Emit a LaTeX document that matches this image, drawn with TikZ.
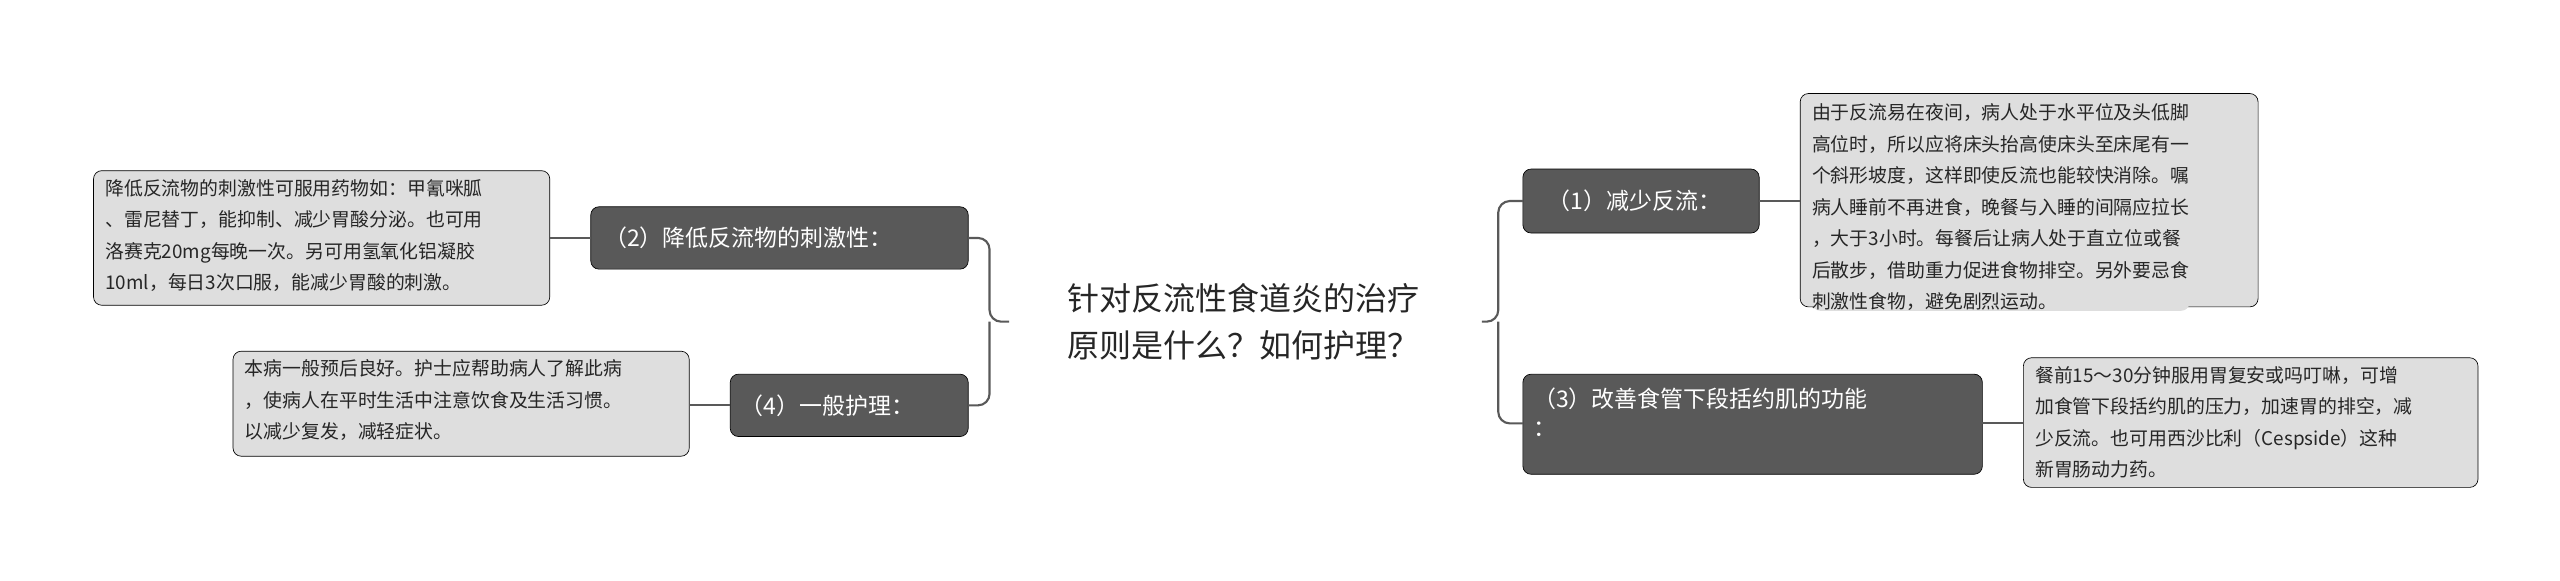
\documentclass[tikz,border=0pt]{standalone}
\usepackage{fontspec}
\setmainfont{Noto Sans CJK SC}
\begin{document}
\begin{tikzpicture}[x=1pt,y=-1pt,
 dark/.style={fill=black!65,text=white,rounded corners=5pt,font=\fontsize{14}{18}\selectfont,align=left,inner sep=0pt},
 lite/.style={fill=black!13,text=black!85,rounded corners=5pt,font=\fontsize{11.5}{19.2}\selectfont,align=left,inner sep=0pt},
 conn/.style={draw=black!65,line width=1.3pt,rounded corners=7pt}]
\useasboundingbox (0,0) rectangle (1560,354);
\node[font=\fontsize{19.5}{29}\selectfont,align=left,text=black!85] (c) at (758,196) {针对反流性食道炎的治疗\\原则是什么？如何护理？};
\coordinate (cr) at (903,196); \coordinate (cl) at (615,196);
% right
\filldraw[dark] (928,103) rectangle (1072,142);
\node[dark,anchor=west] (n1) at (943,122.5) {（1）减少反流：};
\coordinate (n1w) at (928,122.5); \coordinate (n1e) at (1072,122.5);
\filldraw[lite] (1097,57) rectangle (1376,187);
\node[lite,anchor=north west] (t1) at (1104,63) {由于反流易在夜间，病人处于水平位及头低脚\\高位时，所以应将床头抬高使床头至床尾有一\\个斜形坡度，这样即使反流也能较快消除。嘱\\病人睡前不再进食，晚餐与入睡的间隔应拉长\\，大于3小时。每餐后让病人处于直立位或餐\\后散步，借助重力促进食物排空。另外要忌食\\刺激性食物，避免剧烈运动。};
\coordinate (t1w) at (1097,122.5);
\filldraw[dark] (928,228) rectangle (1208,289);
\node[dark,anchor=north west] (n3) at (934,236) {（3）改善食管下段括约肌的功能\\：};
\coordinate (n3w) at (928,258); \coordinate (n3e) at (1208,258);
\filldraw[lite] (1233,218) rectangle (1510,297);
\node[lite,anchor=north west] (t3) at (1240,223) {餐前15～30分钟服用胃复安或吗叮啉，可增\\加食管下段括约肌的压力，加速胃的排空，减\\少反流。也可用西沙比利（Cespside）这种\\新胃肠动力药。};
\coordinate (t3w) at (1233,258);
% left
\filldraw[dark] (360,126) rectangle (590,164);
\node[dark,anchor=west] (n2) at (368,145) {（2）降低反流物的刺激性：};
\coordinate (n2e) at (590,145); \coordinate (n2w) at (360,145);
\filldraw[lite] (57,104) rectangle (335,186);
\node[lite,anchor=north west] (t2) at (64,109) {降低反流物的刺激性可服用药物如：甲氰咪胍\\、雷尼替丁，能抑制、减少胃酸分泌。也可用\\洛赛克20mg每晚一次。另可用氢氧化铝凝胶\\10ml，每日3次口服，能减少胃酸的刺激。};
\coordinate (t2e) at (335,145);
\filldraw[dark] (445,228) rectangle (590,266);
\node[dark,anchor=west] (n4) at (451,247) {（4）一般护理：};
\coordinate (n4e) at (590,247); \coordinate (n4w) at (445,247);
\filldraw[lite] (142,214) rectangle (420,278);
\node[lite,anchor=north west] (t4) at (149,219) {本病一般预后良好。护士应帮助病人了解此病\\，使病人在平时生活中注意饮食及生活习惯。\\以减少复发，减轻症状。};
\coordinate (t4e) at (420,247);
% connectors
\draw[conn] (cr) -- (913,196) |- (n1w);
\draw[conn] (913,196) |- (n3w);
\draw[conn] (cl) -- (603,196) |- (n2e);
\draw[conn] (603,196) |- (n4e);
\draw[conn] (n1e) -- (t1w);
\draw[conn] (n3e) -- (t3w);
\draw[conn] (n2w) -- (t2e);
\draw[conn] (n4w) -- (t4e);
\end{tikzpicture}
\end{document}
